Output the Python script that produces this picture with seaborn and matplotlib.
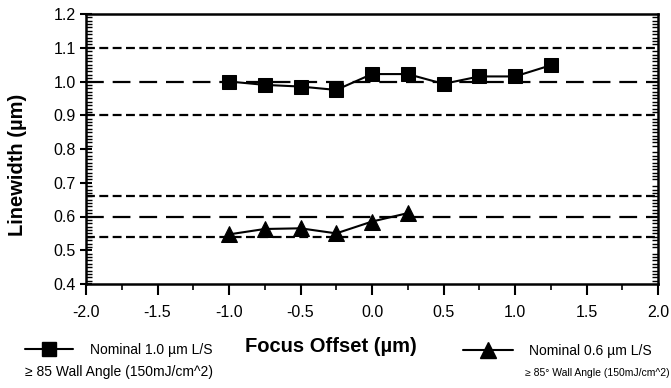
import numpy as np
import pandas as pd
import matplotlib
matplotlib.use("Agg")
import matplotlib.pyplot as plt
import seaborn as sns
from matplotlib.ticker import MultipleLocator, FormatStrFormatter
from matplotlib.lines import Line2D

sns.set_style("white")
plt.rcParams['font.family'] = ['Liberation Sans', 'DejaVu Sans']
plt.rcParams['axes.unicode_minus'] = False
for k in ['text.color', 'axes.labelcolor', 'xtick.color', 'ytick.color', 'axes.edgecolor']:
    plt.rcParams[k] = 'black'

# ---- data ----
focus_sq = [-1.0, -0.75, -0.5, -0.25, 0.0, 0.25, 0.5, 0.75, 1.0, 1.25]
lw_sq = [1.00, 0.99, 0.985, 0.975, 1.022, 1.022, 0.993, 1.015, 1.015, 1.048]
focus_tri = [-1.0, -0.75, -0.5, -0.25, 0.0, 0.25]
lw_tri = [0.547, 0.563, 0.565, 0.550, 0.585, 0.610]
ref_short = [1.1, 0.9, 0.66, 0.54]
ref_long = [1.0, 0.6]
label_sq = "Nominal 1.0 \u00b5m L/S"
label_sq2 = "\u2265 85 Wall Angle (150mJ/cm^2)"
label_tri = "Nominal 0.6 \u00b5m L/S"
label_tri2 = "\u2265 85\u00b0 Wall Angle (150mJ/cm^2)"
xticks = [-2.0, -1.5, -1.0, -0.5, 0.0, 0.5, 1.0, 1.5, 2.0]
yticks = [0.4, 0.5, 0.6, 0.7, 0.8, 0.9, 1.0, 1.1, 1.2]

df_sq = pd.DataFrame({"x": focus_sq, "y": lw_sq})
df_tri = pd.DataFrame({"x": focus_tri, "y": lw_tri})

fig = plt.figure(figsize=(6.71, 3.88), dpi=100)
ax = fig.add_axes([86/671, 1-284/388, (658-86)/671, (284-14)/388])

for v in ref_short:
    ax.axhline(v, color='black', lw=1.6, ls=(0, (4, 2)), zorder=1)
for v in ref_long:
    ax.axhline(v, color='black', lw=1.6, ls=(0, (8, 4)), zorder=1)

sns.lineplot(data=df_sq, x="x", y="y", ax=ax, color='black', lw=1.5,
             marker='s', markersize=10, markeredgecolor='black', zorder=3)
sns.lineplot(data=df_tri, x="x", y="y", ax=ax, color='black', lw=1.5,
             marker='^', markersize=11, markeredgecolor='black', zorder=3)

ax.set_xlim(-2.0, 2.0)
ax.set_ylim(0.4, 1.2)
ax.set_xticks(xticks)
ax.set_yticks(yticks)
ax.xaxis.set_major_formatter(FormatStrFormatter('%.1f'))
ax.yaxis.set_major_formatter(FormatStrFormatter('%.1f'))
ax.xaxis.set_minor_locator(MultipleLocator(0.25))
ax.yaxis.set_minor_locator(MultipleLocator(0.01))
ax.tick_params(axis='x', which='major', direction='out', length=8, width=1.5,
               labelsize=11.5, pad=7, bottom=True, top=False)
ax.tick_params(axis='x', which='minor', direction='out', length=4, width=1.2,
               bottom=True, top=False)
ax.tick_params(axis='y', which='major', direction='inout', length=9, width=1.5,
               labelsize=11.5, pad=3, left=True, right=False)
ax.tick_params(axis='y', which='minor', direction='in', length=4, width=1.0,
               left=True, right=True)
for s in ax.spines.values():
    s.set_visible(True)
    s.set_color('black')
    s.set_linewidth(1.8)
ax.set_xlabel("")
ax.set_ylabel("")

fig.text(331/671, 1-347/388, "Focus Offset (\u00b5m)", fontsize=14.5, fontweight='bold',
         ha='center', va='center')
fig.text(18/671, 1-165/388, "Linewidth (\u00b5m)", fontsize=14.5, fontweight='bold',
         ha='center', va='center', rotation=90)

hs = Line2D([], [], color='black', lw=1.5, marker='s', markersize=10)
ht = Line2D([], [], color='black', lw=1.5, marker='^', markersize=11)
fig.legend([hs], [label_sq], loc='center left', bbox_to_anchor=(25/671, 1-350/388),
           frameon=False, fontsize=10, handlelength=3.45, handletextpad=1.2,
           borderpad=0, borderaxespad=0)
fig.legend([ht], [label_tri], loc='center left', bbox_to_anchor=(463/671, 1-351/388),
           frameon=False, fontsize=10, handlelength=3.6, handletextpad=1.15,
           borderpad=0, borderaxespad=0)
fig.text(25/671, 1-372/388, label_sq2, fontsize=10, ha='left', va='center')
fig.text(525/671, 1-373/388, label_tri2, fontsize=7.5, ha='left', va='center')

fig.savefig("out.png", dpi=100)
